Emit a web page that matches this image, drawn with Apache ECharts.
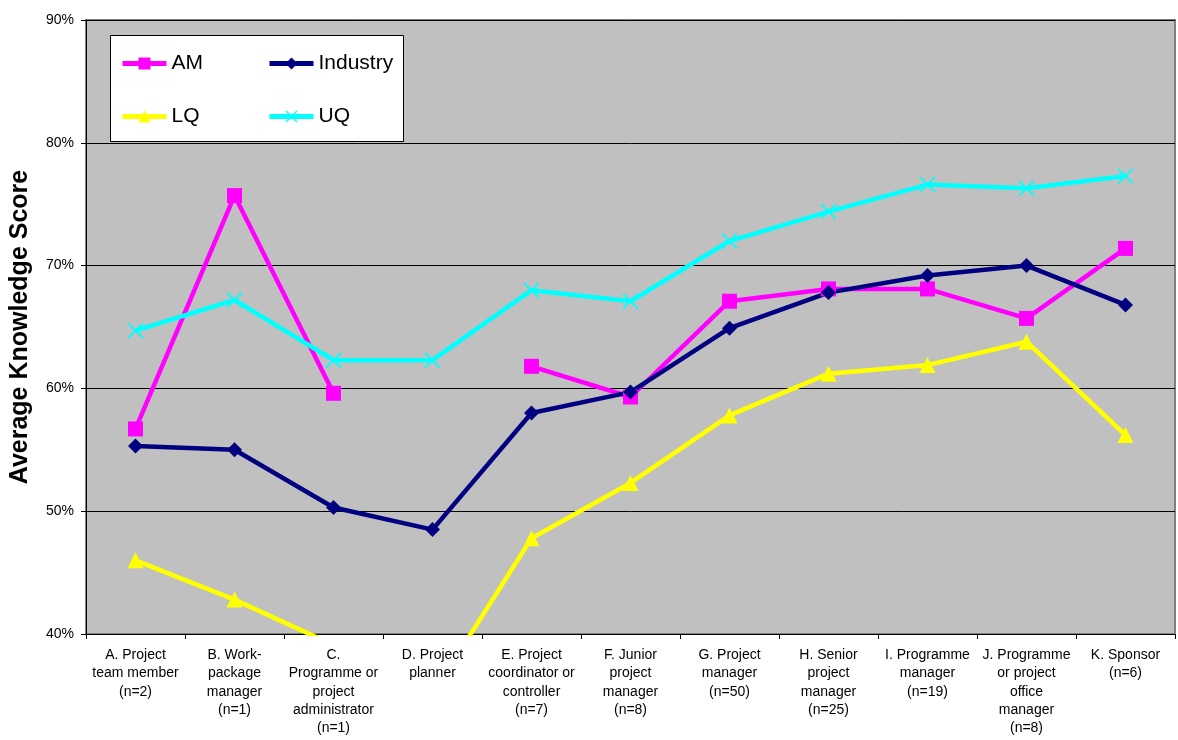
<!DOCTYPE html>
<html>
<head>
<meta charset="utf-8">
<title>Average Knowledge Score by role</title>
<script src="https://cdn.jsdelivr.net/npm/echarts@6/dist/echarts.min.js"></script>
<style>
  html, body { margin: 0; padding: 0; background: #ffffff; }
  #chart { width: 1178px; height: 740px; }
</style>
</head>
<body>
<div id="chart"></div>
<script>
// Role categories (with sample sizes), shown along the x axis
const categories = [
  'A. Project\nteam member\n(n=2)',
  'B. Work-\npackage\nmanager\n(n=1)',
  'C.\nProgramme or\nproject\nadministrator\n(n=1)',
  'D. Project\nplanner',
  'E. Project\ncoordinator or\ncontroller\n(n=7)',
  'F. Junior\nproject\nmanager\n(n=8)',
  'G. Project\nmanager\n(n=50)',
  'H. Senior\nproject\nmanager\n(n=25)',
  'I. Programme\nmanager\n(n=19)',
  'J. Programme\nor project\noffice\nmanager\n(n=8)',
  'K. Sponsor\n(n=6)'
];

// Average knowledge scores, in percent
const amScores       = [56.7, 75.7, 59.6, null, 61.8, 59.3, 67.1, 68.1, 68.1, 65.7, 71.4];
const industryScores = [55.3, 55.0, 50.3, 48.5, 58.0, 59.7, 64.9, 67.8, 69.2, 70.0, 66.8];
const lqScores       = [46.0, 42.8, 39.1, 35.1, 47.8, 52.3, 57.8, 61.2, 61.9, 63.8, 56.2];
const uqScores       = [64.7, 67.2, 62.3, 62.3, 68.0, 67.1, 72.0, 74.4, 76.6, 76.3, 77.3];

// Y axis range and step (percent)
const yMin = 40, yMax = 90, yStep = 10;

const FONT = 'Liberation Sans, Arial, sans-serif';

// Thin filled "X" marker
const crossSymbol = 'path://M0,0.8 L0.8,0 L5,4.2 L9.2,0 L10,0.8 L5.8,5 L10,9.2 L9.2,10 L5,5.8 L0.8,10 L0,9.2 L4.2,5 Z';

function lineSeries(name, data, color, symbol, size) {
  return {
    name: name,
    type: 'line',
    data: data,
    symbol: symbol,
    symbolSize: size,
    showSymbol: true,
    connectNulls: false,
    clip: true,
    lineStyle: { color: color, width: 4.5 },
    itemStyle: { color: color, borderWidth: 0 },
    emphasis: { disabled: true },
    animation: false
  };
}

// One legend entry per box cell: two columns, two rows
function legendEntry(name, left, top) {
  return {
    data: [name],
    left: left,
    top: top,
    itemWidth: 44,
    itemHeight: 15,
    itemGap: 0,
    padding: 0,
    lineStyle: { width: 5 },
    textStyle: { fontFamily: FONT, fontSize: 21, color: '#000' },
    selectedMode: false
  };
}

const chart = echarts.init(document.getElementById('chart'), null, { renderer: 'canvas' });

chart.setOption({
  backgroundColor: '#ffffff',
  animation: false,
  grid: {
    left: 86, right: 3, top: 20, bottom: 106,
    show: true,
    backgroundColor: '#c0c0c0',
    borderColor: '#808080',
    borderWidth: 2
  },
  graphic: [{
    type: 'rect',
    z: 3,
    shape: { x: 110.5, y: 35.5, width: 293, height: 106 },
    style: { fill: '#ffffff', stroke: '#000000', lineWidth: 1 }
  }],
  legend: [
    legendEntry('AM', 120, 53),
    legendEntry('Industry', 267, 53),
    legendEntry('LQ', 120, 106),
    legendEntry('UQ', 267, 106)
  ],
  xAxis: {
    type: 'category',
    data: categories,
    boundaryGap: true,
    axisLine: { lineStyle: { color: '#000', width: 1 } },
    axisTick: { show: true, length: 5, alignWithLabel: false, lineStyle: { color: '#000' } },
    axisLabel: {
      interval: 0,
      margin: 12,
      fontFamily: FONT,
      fontSize: 14,
      lineHeight: 18.3,
      color: '#000',
      align: 'center'
    },
    splitLine: { show: false }
  },
  yAxis: {
    type: 'value',
    min: yMin,
    max: yMax,
    interval: yStep,
    name: 'Average Knowledge Score',
    nameLocation: 'middle',
    nameGap: 53,
    nameTextStyle: { fontFamily: FONT, fontSize: 25, fontWeight: 'bold', color: '#000' },
    axisLine: { show: true, lineStyle: { color: '#000', width: 1 } },
    axisTick: { show: true, length: 5, inside: false, lineStyle: { color: '#000' } },
    axisLabel: {
      formatter: '{value}%',
      fontFamily: FONT,
      fontSize: 14,
      color: '#000',
      margin: 12
    },
    splitLine: { show: true, lineStyle: { color: '#000', width: 1 } }
  },
  series: [
    lineSeries('AM', amScores, '#ff00ff', 'rect', 15),
    lineSeries('Industry', industryScores, '#000080', 'diamond', 15),
    lineSeries('LQ', lqScores, '#ffff00', 'triangle', 16),
    lineSeries('UQ', uqScores, '#00ffff', crossSymbol, 16)
  ]
});
</script>
</body>
</html>
